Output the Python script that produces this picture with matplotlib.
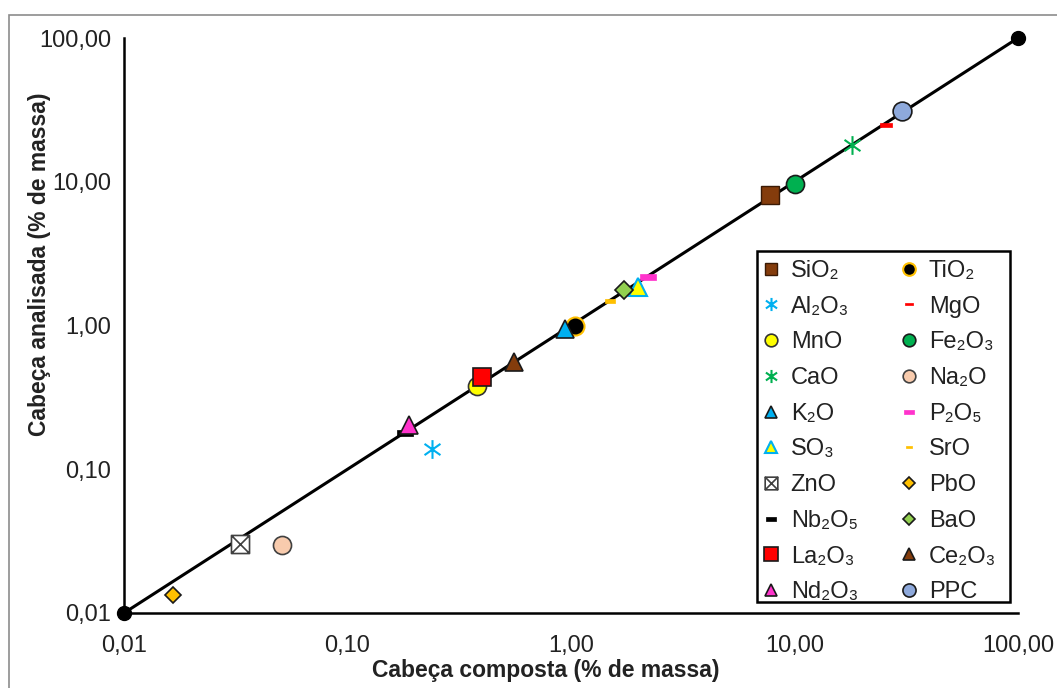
import numpy as np
import matplotlib
matplotlib.use('Agg')
import matplotlib.pyplot as plt
from matplotlib.path import Path
from matplotlib.patches import Rectangle

plt.rcParams['font.family'] = ['Liberation Sans', 'DejaVu Sans']

# composition of each oxide (% by mass): composite head vs analysed head
oxides = ['SiO₂', 'TiO₂', 'Al₂O₃', 'MgO', 'MnO', 'Fe₂O₃', 'CaO', 'Na₂O', 'K₂O', 'P₂O₅',
          'SO₃', 'SrO', 'ZnO', 'PbO', 'Nb₂O₅', 'BaO', 'La₂O₃', 'Ce₂O₃', 'Nd₂O₃', 'PPC']
composta = [7.8, 1.04, 0.24, 25.7, 0.38, 10.0, 18.1, 0.051, 0.94, 2.2,
            2.0, 1.5, 0.033, 0.0166, 0.18, 1.73, 0.40, 0.556, 0.188, 30.3]
analisada = [8.1, 0.99, 0.138, 24.8, 0.38, 9.65, 18.0, 0.0297, 0.95, 2.17,
             1.85, 1.48, 0.030, 0.0133, 0.179, 1.77, 0.438, 0.557, 0.203, 31.0]

ticks = [0.01, 0.1, 1, 10, 100]
tick_labels = ['0,01', '0,10', '1,00', '10,00', '100,00']

# excel-like marker shapes
star = Path([(0, -1), (0, 1), (-0.85, -0.6), (0.85, 0.6), (-0.85, 0.6), (0.85, -0.6)],
            [Path.MOVETO, Path.LINETO] * 3)
dash = Path([(-1, -0.33), (1, -0.33), (1, 0.33), (-1, 0.33), (-1, -0.33)],
            [Path.MOVETO, Path.LINETO, Path.LINETO, Path.LINETO, Path.CLOSEPOLY])
boxx = Path([(-1, -1), (1, -1), (1, 1), (-1, 1), (-1, -1), (-1, -1), (1, 1), (-1, 1), (1, -1)],
            [Path.MOVETO, Path.LINETO, Path.LINETO, Path.LINETO, Path.CLOSEPOLY,
             Path.MOVETO, Path.LINETO, Path.MOVETO, Path.LINETO])

# marker, size, face, edge, edge width
styles = {
    'SiO₂': ('s', 13, '#843C0C', '#3a1a05', 1.0),
    'TiO₂': ('o', 13, 'black', '#FFC000', 1.5),
    'Al₂O₃': (star, 13.5, 'none', '#00B0F0', 1.5),
    'MgO': (dash, 9, '#FF0000', '#FF0000', 0.5),
    'MnO': ('o', 13, '#FFFF00', '#333333', 1.2),
    'Fe₂O₃': ('o', 13, '#00B050', '#1a1a1a', 1.2),
    'CaO': (star, 13.5, 'none', '#00B050', 1.5),
    'Na₂O': ('o', 13, '#F8CBAD', '#404040', 1.2),
    'K₂O': ('^', 13, '#00B0F0', '#1a1a1a', 1.2),
    'P₂O₅': (dash, 11, '#FF33CC', '#FF33CC', 0.5),
    'SO₃': ('^', 13, '#FFFF00', '#00B0F0', 1.5),
    'SrO': (dash, 7, '#FFC000', '#FFC000', 0.5),
    'ZnO': (boxx, 13, 'white', '#404040', 1.2),
    'PbO': ('D', 8.5, '#FFC000', '#1a1a1a', 1.2),
    'Nb₂O₅': (dash, 11, 'black', 'black', 0.5),
    'BaO': ('D', 9, '#92D050', '#1a1a1a', 1.2),
    'La₂O₃': ('s', 13.5, '#FF0000', '#1a1a1a', 1.2),
    'Ce₂O₃': ('^', 13, '#843C0C', '#1a1a1a', 1.2),
    'Nd₂O₃': ('^', 13, '#FF33CC', '#1a1a1a', 1.2),
    'PPC': ('o', 13.5, '#8EA9DB', '#1a1a1a', 1.2),
}

W, H = 1057, 688
fig = plt.figure(figsize=(W / 100, H / 100), dpi=100)
ax = fig.add_axes([124 / W, 1 - 613 / H, (1018 - 124) / W, (613 - 38) / H])

# 1:1 line with end points
ax.plot([0.01, 100], [0.01, 100], color='black', lw=2.2, zorder=2, solid_capstyle='butt')
ax.plot([0.01, 100], [0.01, 100], 'o', color='black', ms=10, zorder=4, clip_on=False)

handles = []
for name, x, y in zip(oxides, composta, analisada):
    m, s, fc, ec, ew = styles[name]
    h, = ax.plot([x], [y], linestyle='none', marker=m, ms=s, markerfacecolor=fc,
                 markeredgecolor=ec, markeredgewidth=ew, zorder=3, label=name)
    handles.append(h)

ax.set_xscale('log')
ax.set_yscale('log')
ax.set_xlim(0.01, 100)
ax.set_ylim(0.01, 100)
ax.set_xticks(ticks)
ax.set_xticklabels(tick_labels)
ax.set_yticks(ticks)
ax.set_yticklabels(tick_labels)
ax.minorticks_off()
ax.tick_params(axis='both', length=0, labelsize=17, colors='#222222')
ax.tick_params(axis='x', pad=16)
ax.tick_params(axis='y', pad=9)
for side in ['top', 'right']:
    ax.spines[side].set_visible(False)
for side in ['left', 'bottom']:
    ax.spines[side].set_linewidth(1.8)

fig.text(546 / W, 1 - 670 / H, 'Cabeça composta (% de massa)', fontsize=16.5,
         fontweight='bold', ha='center', va='center', color='#222222')
fig.text(40 / W, 1 - 264 / H, 'Cabeça analisada (% de massa)', fontsize=16.5,
         fontweight='bold', ha='center', va='center', rotation=90, color='#222222')

# legend reads row by row in two columns; its box is drawn separately
order = handles[0::2] + handles[1::2]
leg = fig.legend(order, [h.get_label() for h in order], ncol=2, loc='upper left',
                 bbox_to_anchor=(760 / W, 1 - 260 / H), bbox_transform=fig.transFigure,
                 fontsize=17, frameon=False, borderaxespad=0, borderpad=0,
                 markerscale=0.7, handlelength=0.9, handletextpad=0.4,
                 labelspacing=0.58, columnspacing=1.7)
for t in leg.get_texts():
    t.set_color('#222222')
fig.patches.append(Rectangle((757 / W, 1 - 602 / H), 253 / W, 351 / H, transform=fig.transFigure,
                             fill=False, edgecolor='black', lw=1.8, zorder=5))

# outer chart border
fig.patches.append(Rectangle((9 / W, -0.05), 1.2, 1 - 15 / H + 0.05, transform=fig.transFigure,
                             fill=False, edgecolor='#8c8c8c', lw=1.2))

fig.savefig('out.png', dpi=100)
